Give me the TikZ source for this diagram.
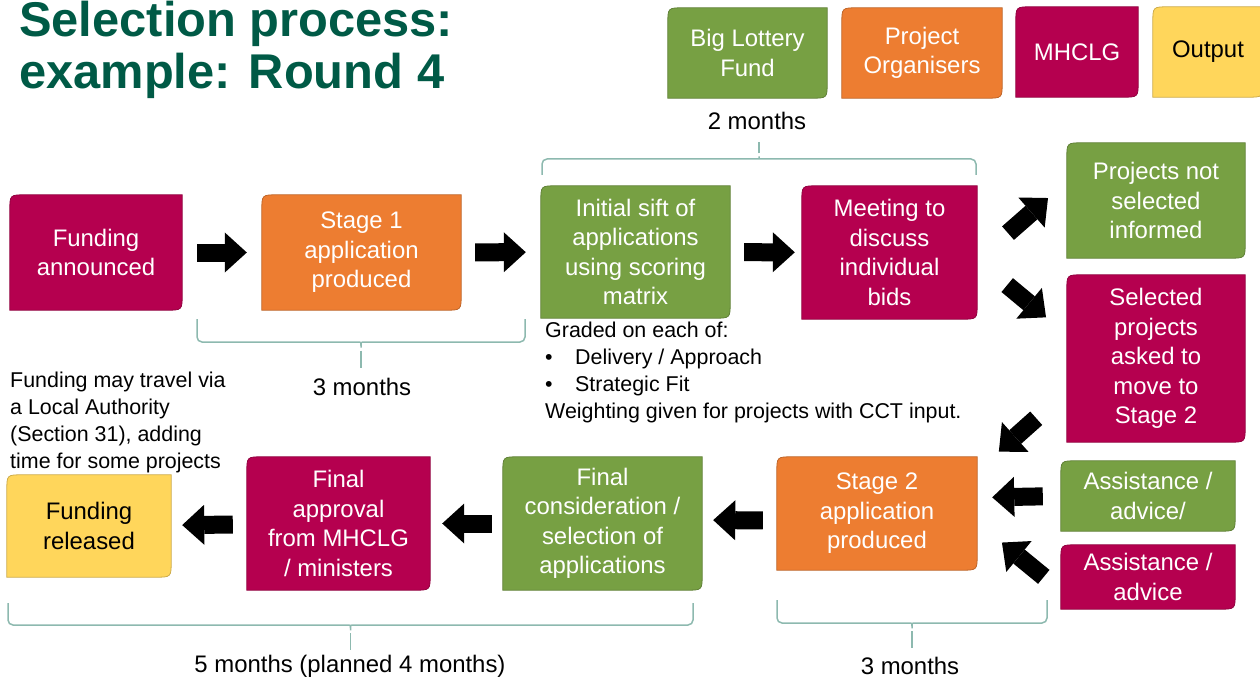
\documentclass[tikz,border=0pt]{standalone}
\usepackage{fontspec}
\setmainfont{Liberation Sans}
\usetikzlibrary{arrows.meta,backgrounds}
\definecolor{bidred}{HTML}{B5004F}
\definecolor{lotgreen}{HTML}{77A043}
\definecolor{orgorange}{HTML}{ED7D31}
\definecolor{outyellow}{HTML}{FFD65B}
\definecolor{titlegreen}{HTML}{005A46}
\definecolor{bracecol}{HTML}{8DB9AF}

% bracket under/over a stretch of time: x1, x2, y of the ends, y of the bar, y of the tip
\newcommand{\spanbrace}[5]{%
  \draw[brc] (#1,#3) -- (#1,#4) -- ({(#1+#2)/2-9},#4)
    .. controls ({(#1+#2)/2},#4) .. ({(#1+#2)/2},{#4+(#5-#4)/3})
    .. controls ({(#1+#2)/2},#4) .. ({(#1+#2)/2+9},#4) -- (#2,#4) -- (#2,#3);
  \draw[brc] ({(#1+#2)/2},{#4+(#5-#4)/3}) -- ({(#1+#2)/2},#5);}

\begin{document}
\begin{tikzpicture}[x=1bp, y=-1bp,
    every node/.style={font=\fontsize{24}{29.5}\selectfont, inner sep=0pt},
    stagebox/.style={align=center, text=white},
    outbox/.style={align=center, text=black},
    note/.style={align=left, anchor=north west, font=\fontsize{21.5}{27}\selectfont},
    span/.style={font=\fontsize{24}{29}\selectfont},
    blk/.style={line width=18bp, -{Triangle[length=22bp, width=40bp, line width=0pt]}},
    brc/.style={draw=bracecol, line width=1.5bp, rounded corners=5bp}
  ]
  \useasboundingbox (0,0) rectangle (1260,682);

  \node[font=\fontsize{49}{52}\selectfont\bfseries, text=titlegreen, align=left, anchor=north west] (title) at (19,1) {Selection process:\\example: Round 4};

  % key
  \node[stagebox, minimum width=159bp, minimum height=90bp] (klot) at (747.5,53) {Big Lottery\\Fund};
  \node[stagebox, minimum width=160bp, minimum height=90bp] (korg) at (922,53) {Project\\Organisers};
  \node[stagebox, minimum width=122bp, minimum height=90bp] (kmin) at (1077,52) {MHCLG};
  \node[outbox, minimum width=110bp, minimum height=90bp] (kout) at (1208,52) {Output};

  % stage 1 and the sift
  \node[stagebox, minimum width=172bp, minimum height=115bp] (fa) at (96,252.5) {Funding\\announced};
  \node[stagebox, minimum width=199bp, minimum height=115bp] (st1) at (361.5,252.5) {Stage 1\\application\\produced};
  \node[stagebox, minimum width=189bp, minimum height=132bp] (sift) at (635.5,252) {Initial sift of\\applications\\using scoring\\matrix};
  \node[stagebox, minimum width=175bp, minimum height=133bp] (meet) at (889.5,252.5) {Meeting to\\discuss\\individual\\bids};
  \node[stagebox, minimum width=178bp, minimum height=115bp] (notsel) at (1156,200.5) {Projects not\\selected\\informed};
  \node[stagebox, minimum width=178bp, minimum height=167bp] (sel) at (1156,358.5) {Selected\\projects\\asked to\\move to\\Stage 2};

  % stage 2 and release
  \node[stagebox, minimum width=174bp, minimum height=70bp] (advg) at (1148,496) {Assistance /\\advice/};
  \node[stagebox, minimum width=174bp, minimum height=64bp] (advm) at (1148,577) {Assistance /\\advice};
  \node[stagebox, minimum width=200bp, minimum height=113bp] (st2) at (877,513.5) {Stage 2\\application\\produced};
  \node[stagebox, minimum width=199bp, minimum height=133bp] (fcons) at (602.5,523.5) {Final\\consideration /\\selection of\\applications};
  \node[stagebox, minimum width=183bp, minimum height=133bp] (fappr) at (338.5,523.5) {Final\\approval\\from MHCLG\\/ ministers};
  \node[outbox, minimum width=164bp, minimum height=102bp] (frel) at (89,526) {Funding\\released};

  % box fills: top left and bottom right corners rounded
  \begin{scope}[on background layer]
    \foreach \n/\c in {klot/lotgreen, korg/orgorange, kmin/bidred, kout/outyellow,
        fa/bidred, st1/orgorange, sift/lotgreen, meet/bidred, notsel/lotgreen, sel/bidred,
        advg/lotgreen, advm/bidred, st2/orgorange, fcons/lotgreen, fappr/bidred, frel/outyellow}
      \filldraw[fill=\c, draw=\c!80!black, line width=0.8bp]
        ([yshift=-16bp]\n.north west) .. controls (\n.north west) .. ([xshift=16bp]\n.north west)
        -- (\n.north east)
        -- ([yshift=16bp]\n.south east) .. controls (\n.south east) .. ([xshift=-16bp]\n.south east)
        -- (\n.south west) -- cycle;
  \end{scope}

  \node[note] (via) at (10,372) {Funding may travel via\\a Local Authority\\(Section 31), adding\\time for some projects};
  \node[note] (grade) at (545,322) {Graded on each of:\\\makebox[30bp][l]{\textbullet}Delivery / Approach\\\makebox[30bp][l]{\textbullet}Strategic Fit\\Weighting given for projects with CCT input.};

  % block arrows
  \draw[blk, shorten <=15bp, shorten >=15bp] (fa) -- (st1);
  \draw[blk, shorten <=14bp, shorten >=15bp] (st1) -- (sift);
  \draw[blk, shorten <=14bp, shorten >=7bp] (sift) -- (meet);
  \draw[blk, shorten <=41bp, shorten >=25bp] (meet.-5) -- (notsel.168);
  \draw[blk, shorten <=39bp, shorten >=27bp] (meet.-5) -- (sel.165);
  \draw[blk, shorten <=41bp, shorten >=29bp] (sel.200) -- (st2.23);
  \draw[blk, shorten <=18bp, shorten >=15bp] (advg.west) -- (st2.9);
  \draw[blk, shorten <=22bp, shorten >=32bp] (advm.189) -- (st2.-5);
  \draw[blk, shorten <=14bp, shorten >=11bp] (st2.184) -- (fcons.2);
  \draw[blk, shorten <=11bp, shorten >=12bp] (fcons) -- (fappr);
  \draw[blk, shorten <=14bp, shorten >=11bp] (fappr) -- (frel);

  % time spans
  \spanbrace{542}{976}{175}{159}{142}
  \spanbrace{197}{525}{319}{342}{368}
  \spanbrace{8}{693}{603}{625}{650}
  \spanbrace{777}{1047}{600}{623}{648}
  \node[span] (m2) at (757,121) {2 months};
  \node[span] (m3a) at (362,387) {3 months};
  \node[span] (m5) at (350,666) {5 months (planned 4 months)};
  \node[span] (m3b) at (910,666) {3 months};
\end{tikzpicture}
\end{document}
